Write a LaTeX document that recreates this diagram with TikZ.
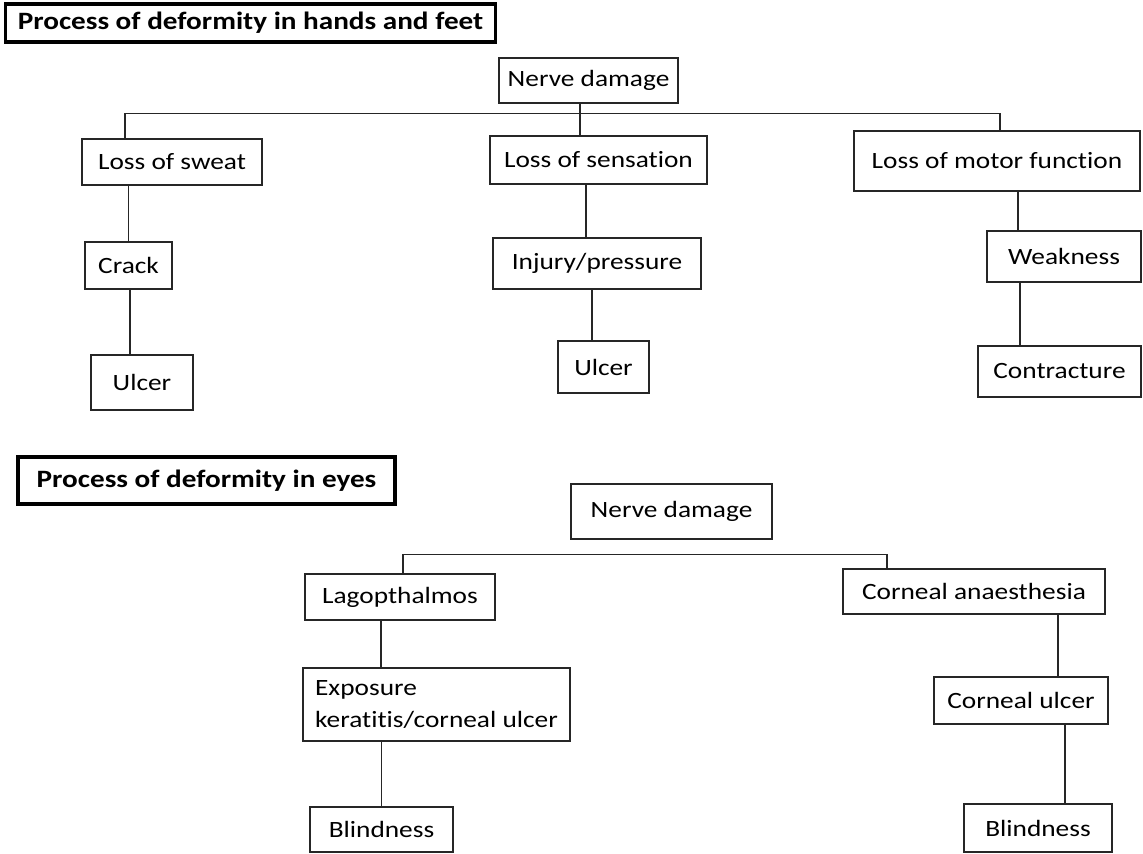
\documentclass[tikz,border=0pt]{standalone}
\usepackage{fontspec}
\setmainfont{Carlito}[FakeStretch=1.17, Ligatures=NoCommon]

\begin{document}
\begin{tikzpicture}
	[x=0.02cm, y=-0.02cm,
	stage/.style={draw=black!85, line width=0.8pt, inner sep=0pt, font=\fontsize{13.3}{18.7}\selectfont},
	heading/.style={draw=black, line width=2pt, inner sep=0pt, font=\fontsize{14.2}{16}\selectfont\bfseries},
	link/.style={draw=black!85, line width=0.8pt}]

\useasboundingbox (0,0) rectangle (1143,854);

% hands and feet
\node [heading, minimum width=9.80cm, minimum height=0.76cm] (title1) at (250.5,23) {Process of deformity in hands and feet};
\node [stage, minimum width=3.58cm, minimum height=0.90cm] (nd1) at (588.5,80.5) {Nerve damage};
\node [stage, minimum width=3.60cm, minimum height=0.92cm] (sweat) at (172,162) {Loss of sweat};
\node [stage, minimum width=4.34cm, minimum height=0.96cm] (sens) at (598.5,160) {Loss of sensation};
\node [stage, minimum width=5.72cm, minimum height=1.20cm] (motor) at (997,161) {Loss of motor function};
\node [stage, minimum width=1.74cm, minimum height=0.94cm] (crack) at (128.5,265.5) {Crack};
\node [stage, minimum width=2.04cm, minimum height=1.10cm] (ulcer1) at (142,382.5) {Ulcer};
\node [stage, minimum width=4.16cm, minimum height=1.02cm] (injury) at (597,263.5) {Injury/pressure};
\node [stage, minimum width=1.82cm, minimum height=1.04cm] (ulcer2) at (603.5,367) {Ulcer};
\node [stage, minimum width=3.08cm, minimum height=1.02cm] (weak) at (1064,256.5) {Weakness};
\node [stage, minimum width=3.26cm, minimum height=1.02cm] (contr) at (1059.5,371.5) {Contracture};

\draw [link] ([xshift=-0.94cm]sweat.north) |- ([xshift=0.06cm,yshift=0.34cm]motor.north) -- ([xshift=0.06cm]motor.north);
\draw [link] ([xshift=-0.17cm]nd1.south) -- ([xshift=-0.17cm]nd1.south |- sens.north);
\draw [link] (crack.north |- sweat.south) -- (crack.north);
\draw [link] ([xshift=0.03cm]crack.south) -- ([xshift=0.03cm]crack.south |- ulcer1.north);
\draw [link] ([xshift=-0.22cm]injury.north |- sens.south) -- ([xshift=-0.22cm]injury.north);
\draw [link] ([xshift=-0.23cm]ulcer2.north |- injury.south) -- ([xshift=-0.23cm]ulcer2.north);
\draw [link] ([xshift=0.42cm]motor.south) -- ([xshift=0.42cm]motor.south |- weak.north);
\draw [link] ([xshift=-0.88cm]weak.south) -- ([xshift=-0.88cm]weak.south |- contr.north);

% eyes
\node [heading, minimum width=7.54cm, minimum height=0.94cm] (title2) at (206.5,480.5) {Process of deformity in eyes};
\node [stage, minimum width=4.02cm, minimum height=1.10cm] (nd2) at (671.5,511.5) {Nerve damage};
\node [stage, minimum width=3.80cm, minimum height=0.92cm] (lago) at (400,597) {Lagopthalmos};
\node [stage, minimum width=5.34cm, minimum height=1.46cm, align=left] (expo) at (436.5,704.5) {Exposure\\keratitis/corneal ulcer};
\node [stage, minimum width=2.86cm, minimum height=0.90cm] (blind1) at (381.5,829.5) {Blindness};
\node [stage, minimum width=5.24cm, minimum height=0.90cm] (corna) at (974,591.5) {Corneal anaesthesia};
\node [stage, minimum width=3.48cm, minimum height=0.94cm] (cornu) at (1021,700.5) {Corneal ulcer};
\node [stage, minimum width=2.96cm, minimum height=0.96cm] (blind2) at (1038,828) {Blindness};

\draw [link] ([xshift=0.06cm]lago.north) |- ([xshift=-1.74cm,yshift=0.28cm]corna.north) -- ([xshift=-1.74cm]corna.north);
\draw [link] ([xshift=-0.38cm]lago.south) -- ([xshift=-0.38cm]lago.south |- expo.north);
\draw [link] (blind1.north |- expo.south) -- (blind1.north);
\draw [link] ([xshift=0.74cm]cornu.north |- corna.south) -- ([xshift=0.74cm]cornu.north);
\draw [link] ([xshift=0.54cm]blind2.north |- cornu.south) -- ([xshift=0.54cm]blind2.north);

\end{tikzpicture}
\end{document}
